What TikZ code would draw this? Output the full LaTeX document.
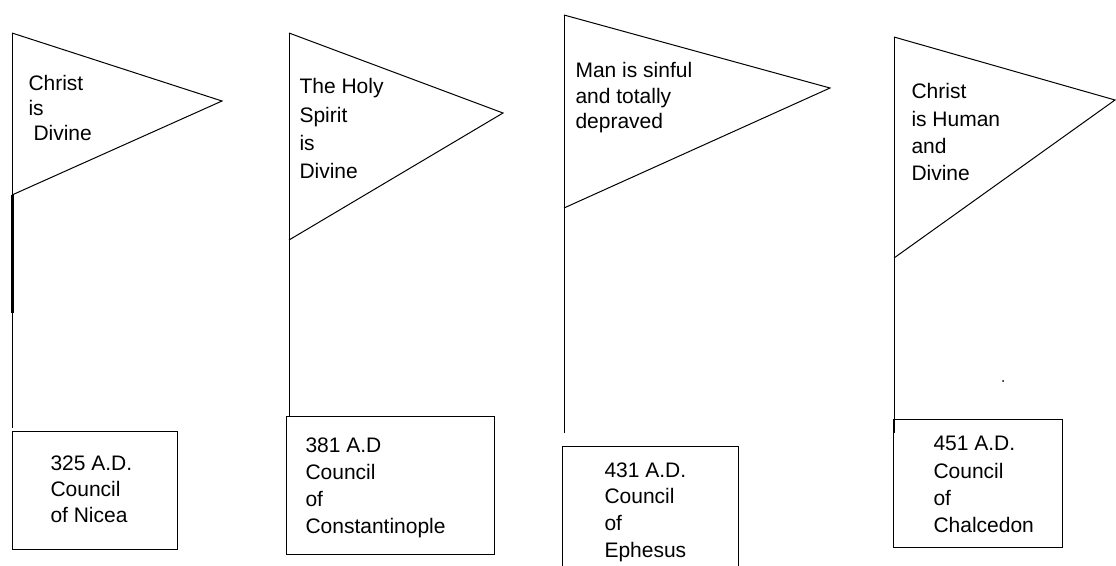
\documentclass[tikz,border=0pt]{standalone}
\usepackage{fontspec}
\setmainfont{Liberation Sans}
\begin{document}
\begin{tikzpicture}[x=1pt,y=-1pt,line width=1pt,
  flagshape/.style={draw,line join=miter},
  polestyle/.style={draw,line width=1pt},
  boxstyle/.style={draw,rectangle,anchor=north west,inner sep=0pt},
  lbl/.style={anchor=north west,inner sep=0pt,align=left},
  fs/.style={font=\fontsize{21}{#1}\selectfont}]
\useasboundingbox (0,0) rectangle (1116,565);

% ---- flag 1
\coordinate (f1top) at (12,33);
\coordinate (f1tip) at (222,101);
\coordinate (f1bot) at (12,195);
\coordinate (p1end) at (12,428);
\coordinate (p1thick) at (12,313);
\draw[flagshape] (f1top) -- (f1tip) -- (f1bot);
\draw[polestyle] (f1top) -- (p1end);
\draw[line width=3pt] (f1bot) -- (p1thick);
\node[lbl,fs=25] (t1) at (28,75) {Christ\\is\\\hspace*{5pt}Divine};
\node[boxstyle,minimum width=165pt,minimum height=118pt] (b1) at (12,431) {};
\node[lbl,fs=26] (l1) at (50,455) {325 A.D.\\Council\\of Nicea};

% ---- flag 2
\coordinate (f2top) at (289,33);
\coordinate (f2tip) at (503,113);
\coordinate (f2bot) at (289,240);
\coordinate (p2end) at (289,416);
\draw[flagshape] (f2top) -- (f2tip) -- (f2bot);
\draw[polestyle] (f2top) -- (p2end);
\node[lbl,fs=28.3] (t2) at (299,78) {The Holy\\Spirit\\is\\Divine};
\node[boxstyle,minimum width=208pt,minimum height=138pt] (b2) at (286,416) {};
\node[lbl,fs=27] (l2) at (305,437) {381 A.D\\Council\\of\\Constantinople};

% ---- flag 3
\coordinate (f3top) at (564,15);
\coordinate (f3tip) at (830,88);
\coordinate (f3bot) at (564,208);
\coordinate (p3end) at (564,433);
\draw[flagshape] (f3top) -- (f3tip) -- (f3bot);
\draw[polestyle] (f3top) -- (p3end);
\node[lbl,fs=25.5] (t3) at (575,62) {Man is sinful\\and totally\\depraved};
\coordinate (b3bl) at (562,570);
\coordinate (b3tl) at (562,446);
\coordinate (b3tr) at (738,446);
\coordinate (b3br) at (738,570);
\draw (b3bl) -- (b3tl) -- (b3tr) -- (b3br);
\node[lbl,fs=26.7] (l3) at (604,462) {431 A.D.\\Council\\of\\Ephesus};

% ---- flag 4
\coordinate (f4top) at (894,37);
\coordinate (f4tip) at (1115,100);
\coordinate (f4bot) at (894,258);
\coordinate (p4end) at (894,433);
\draw[flagshape] (f4top) -- (f4tip) -- (f4bot);
\draw[polestyle] (f4top) -- (p4end);
\node[lbl,fs=27.3] (t4) at (911,83) {Christ\\is Human\\and\\Divine};
\node[boxstyle,minimum width=169pt,minimum height=128pt] (b4) at (893,419) {};
\node[lbl,fs=27.3] (l4) at (933,436) {451 A.D.\\Council\\of\\Chalcedon};

\fill (1003,381) circle (1pt);
\end{tikzpicture}
\end{document}
